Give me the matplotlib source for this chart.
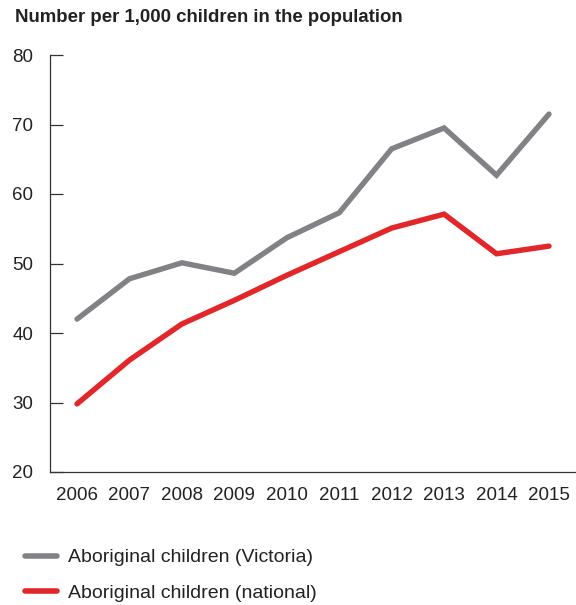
import matplotlib
matplotlib.use("Agg")
import matplotlib.pyplot as plt
from matplotlib.lines import Line2D

years = [2006, 2007, 2008, 2009, 2010, 2011, 2012, 2013, 2014, 2015]
victoria = [42.0, 47.8, 50.1, 48.6, 53.7, 57.3, 66.5, 69.5, 62.7, 71.5]
national = [29.8, 36.1, 41.3, 44.7, 48.3, 51.7, 55.1, 57.1, 51.4, 52.5]
yticks = [20, 30, 40, 50, 60, 70, 80]
series_names = ["Aboriginal children (Victoria)", "Aboriginal children (national)"]
colors = ["#808285", "#E3262A"]

plt.rcParams['font.family'] = ['Liberation Sans', 'DejaVu Sans']

fig = plt.figure(figsize=(5.76, 6.05), dpi=100)
ax = fig.add_axes([50/576, 1-472/605, 525/576, (472-55)/605])

ax.plot(years, victoria, color=colors[0], lw=3.9, solid_capstyle='round', solid_joinstyle='miter')
ax.plot(years, national, color=colors[1], lw=3.9, solid_capstyle='round', solid_joinstyle='miter')

ax.set_ylim(20, 80)
ax.set_xlim(2005.485, 2015.496)
ax.set_yticks(yticks)
ax.set_xticks(years)
ax.set_xticklabels([str(y) for y in years])
for s in ['top', 'right']:
    ax.spines[s].set_visible(False)
for s in ['left', 'bottom']:
    ax.spines[s].set_color('#333333')
    ax.spines[s].set_linewidth(0.9)
ax.tick_params(axis='y', direction='in', length=9, width=0.9, color='#333333',
               labelsize=13.5, pad=12, labelcolor='#222222')
ax.tick_params(axis='x', length=0, labelsize=13.5, pad=11, labelcolor='#222222')

fig.text(15/576, 1-18/605, "Number per 1,000 children in the population",
         fontsize=13.4, fontweight='bold', va='center', ha='left', color='#222222')

handles = [Line2D([0], [0], color=c, lw=4, solid_capstyle='round') for c in colors]
fig.legend(handles, series_names, loc='lower left', bbox_to_anchor=(23.5/576, 1.5/605),
           frameon=False, fontsize=14, handlelength=1.6, handletextpad=0.6,
           labelspacing=0.9, borderpad=0.1, borderaxespad=0, labelcolor='#222222')

fig.savefig("out.png", dpi=100)
